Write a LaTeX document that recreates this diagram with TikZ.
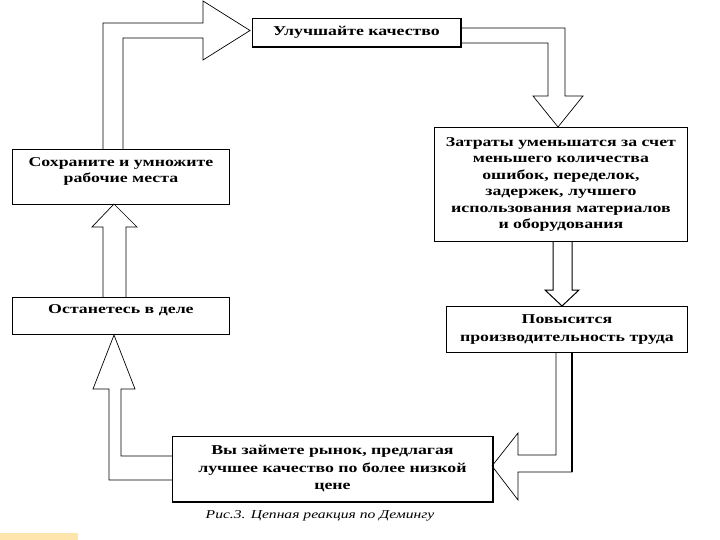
\documentclass[tikz,border=0pt]{standalone}
\usepackage{fontspec}
\setmainfont{Liberation Serif}
\newfontfamily\widefont[FakeStretch=1.32]{Liberation Serif}
\newfontfamily\capfont[FakeStretch=1.3]{Liberation Serif Italic}
\begin{document}
\begin{tikzpicture}[x=1pt,y=-1pt,
  boxst/.style={draw, line width=0.9pt, inner sep=0pt, font=\widefont\bfseries\fontsize{13.5}{16.5}\selectfont},
  barrow/.style={draw, line width=0.7pt, fill=white, line join=miter}]
\useasboundingbox (0,0) rectangle (720,540);
\fill[white] (0,0) rectangle (720,540);
% block arrows
\draw[barrow] (103,149) -- (103,23) -- (203,23) -- (203,1) -- (250,30.5) -- (203,60) -- (203,38) -- (123,38) -- (123,149);
\draw[barrow] (460,28) -- (565,28) -- (565,96) -- (583,96) -- (558,127) -- (533,96) -- (548,96) -- (548,43) -- (460,43);
\draw[barrow, line width=1pt] (553,241) -- (553,290) -- (545,290) -- (562,306) -- (579,290) -- (572,290) -- (572,241);
\draw[barrow] (556,352) -- (556,455) -- (518,455) -- (518,433) -- (492,466) -- (518,500) -- (518,472) -- (572,472) -- (572,352);
\draw[line width=1.4pt] (572,353) -- (572,472);
\draw[barrow] (172,456) -- (121,456) -- (121,389) -- (135,389) -- (114,335) -- (93,389) -- (109,389) -- (109,480) -- (172,480);
\draw[barrow] (103,297) -- (103,227) -- (92,227) -- (114,204) -- (137,227) -- (126,227) -- (126,297);
% boxes
\node[boxst, anchor=north west] (b1) at (252,18) {\parbox[c][28pt][c]{208pt}{\centering Улучшайте качество}};
\node[boxst, anchor=north west] (b2) at (434,127) {\parbox[c][114pt][c]{253pt}{\centering\fontsize{13.5}{16.5}\selectfont Затраты уменьшатся за счет\\ меньшего количества\\ ошибок, переделок,\\ задержек, лучшего\\ использования материалов\\ и оборудования}};
\node[boxst, anchor=north west] (b3) at (12,149) {\parbox[c][55pt][t]{217pt}{\centering\vspace*{8pt}Сохраните и умножите\\ рабочие места}};
\node[boxst, anchor=north west] (b4) at (12,297) {\parbox[c][37pt][t]{217pt}{\centering\vspace*{7pt}Останетесь в деле}};
\node[boxst, anchor=north west] (b5) at (446,306) {\parbox[c][46pt][c]{241pt}{\centering\fontsize{13.5}{18}\selectfont Повысится\\ производительность труда}};
\node[boxst, anchor=north west] (b6) at (172,436) {\parbox[c][65pt][c]{320pt}{\centering\fontsize{13.5}{17.5}\selectfont Вы займете рынок, предлагая\\ лучшее качество по более низкой\\ цене}};
% shadows
\draw[line width=1.6pt] (b1.north east) -- (b1.south east) -- (b1.south west);
\draw[line width=1.6pt] (b6.north east) -- (b6.south east) -- (b6.south west);
\node[font=\capfont\fontsize{12}{14}\selectfont, anchor=center] (cap) at (320,516) {Рис.3. Цепная реакция по Демингу};
\fill[yellow!40!orange!30] (0,533) rectangle (78,540);
\end{tikzpicture}
\end{document}
